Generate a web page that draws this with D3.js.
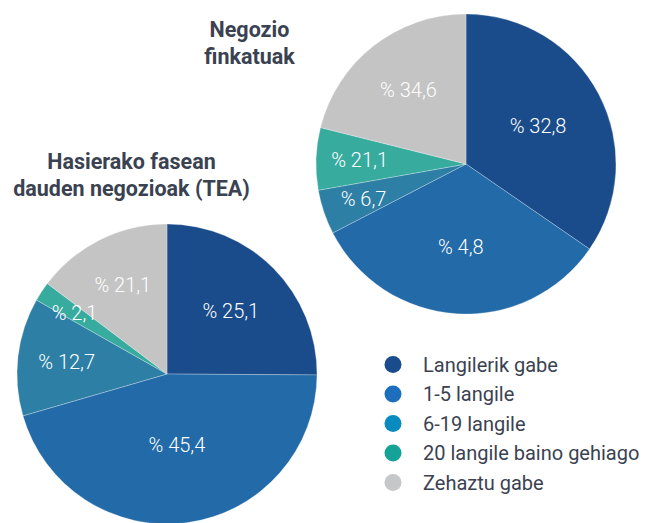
<!DOCTYPE html>
<html>
<head>
<meta charset="utf-8">
<script src="https://cdn.jsdelivr.net/npm/d3@7"></script>
<style>
  html, body { margin: 0; padding: 0; background: #ffffff; }
  svg { display: block; font-family: Roboto, "Noto Sans", sans-serif; }
</style>
</head>
<body>
<div id="chart"></div>
<script>
// Kategoriak (legenda)
const categories = [
  "Langilerik gabe",
  "1-5 langile",
  "6-19 langile",
  "20 langile baino gehiago",
  "Zehaztu gabe",
];

// Tarta bakoitzeko balioak (irudiko xerren tamainak) eta etiketak (irudian agertzen diren bezala)
const teaValues = [25.1, 45.4, 12.7, 2.1, 14.7];
const teaLabels = ["% 25,1", "% 45,4", "% 12,7", "% 2,1", "% 21,1"];

const fixedValues = [34.6, 32.8, 4.8, 6.7, 21.1];
const fixedLabels = ["% 32,8", "% 4,8", "% 6,7", "% 21,1", "% 34,6"];

const teaTitle = ["Hasierako fasean", "dauden negozioak (TEA)"];
const fixedTitle = ["Negozio", "finkatuak"];

// Koloreak
const sliceColors = ["#1a4b8a", "#226aa8", "#2e7fa6", "#38ab9f", "#c4c4c4"];
const legendColors = ["#1a4b8c", "#1d6fbd", "#0a8bbf", "#14a396", "#c6c7c8"];
const textColor = "#3a4252";

const width = 653;
const height = 523;

const svg = d3
  .select("#chart")
  .append("svg")
  .attr("width", width)
  .attr("height", height);

const pie = d3
  .pie()
  .sort(null)
  .value((d) => d.value);

function drawPie(values, labels, cx, cy, r) {
  const data = values.map((v, i) => ({ value: v, label: labels[i], i }));
  const arc = d3.arc().innerRadius(0).outerRadius(r);

  const g = svg.append("g").attr("transform", `translate(${cx},${cy})`);

  g.selectAll("path")
    .data(pie(data))
    .enter()
    .append("path")
    .attr("d", arc)
    .attr("fill", (d) => sliceColors[d.data.i])
    .attr("stroke", "rgba(255,255,255,0.45)")
    .attr("stroke-width", 0.6);

  // Etiketak: xerra txikiak kanporago
  g.selectAll("text")
    .data(pie(data))
    .enter()
    .append("text")
    .attr("transform", (d) => {
      const lr = r * (0.75 - (d.data.value / 100) * 0.6);
      const a = (d.startAngle + d.endAngle) / 2;
      return `translate(${lr * Math.sin(a)},${-lr * Math.cos(a)})`;
    })
    .attr("text-anchor", "middle")
    .attr("dy", "0.35em")
    .attr("font-size", "20px")
    .attr("font-weight", 300)
    .attr("fill", "#ffffff")
    .text((d) => d.data.label);
}

function drawTitle(lines, cx, y0) {
  svg
    .append("text")
    .attr("text-anchor", "middle")
    .attr("font-size", "21.5px")
    .attr("font-weight", 700)
    .attr("fill", textColor)
    .selectAll("tspan")
    .data(lines)
    .enter()
    .append("tspan")
    .attr("x", cx)
    .attr("y", (d, i) => y0 + i * 27)
    .text((d) => d);
}

drawPie(fixedValues, fixedLabels, 466, 164, 150);
drawPie(teaValues, teaLabels, 167, 374, 150);

drawTitle(fixedTitle, 249.5, 36.5);
drawTitle(teaTitle, 131.5, 168.5);

// Legenda
const legend = svg
  .append("g")
  .selectAll("g")
  .data(categories)
  .enter()
  .append("g")
  .attr("transform", (d, i) => `translate(393,${364.5 + i * 29.5})`);

legend
  .append("circle")
  .attr("r", 8.5)
  .attr("fill", (d, i) => legendColors[i]);

legend
  .append("text")
  .attr("x", 30)
  .attr("dy", "0.35em")
  .attr("font-size", "20px")
  .attr("fill", textColor)
  .text((d) => d);
</script>
</body>
</html>
